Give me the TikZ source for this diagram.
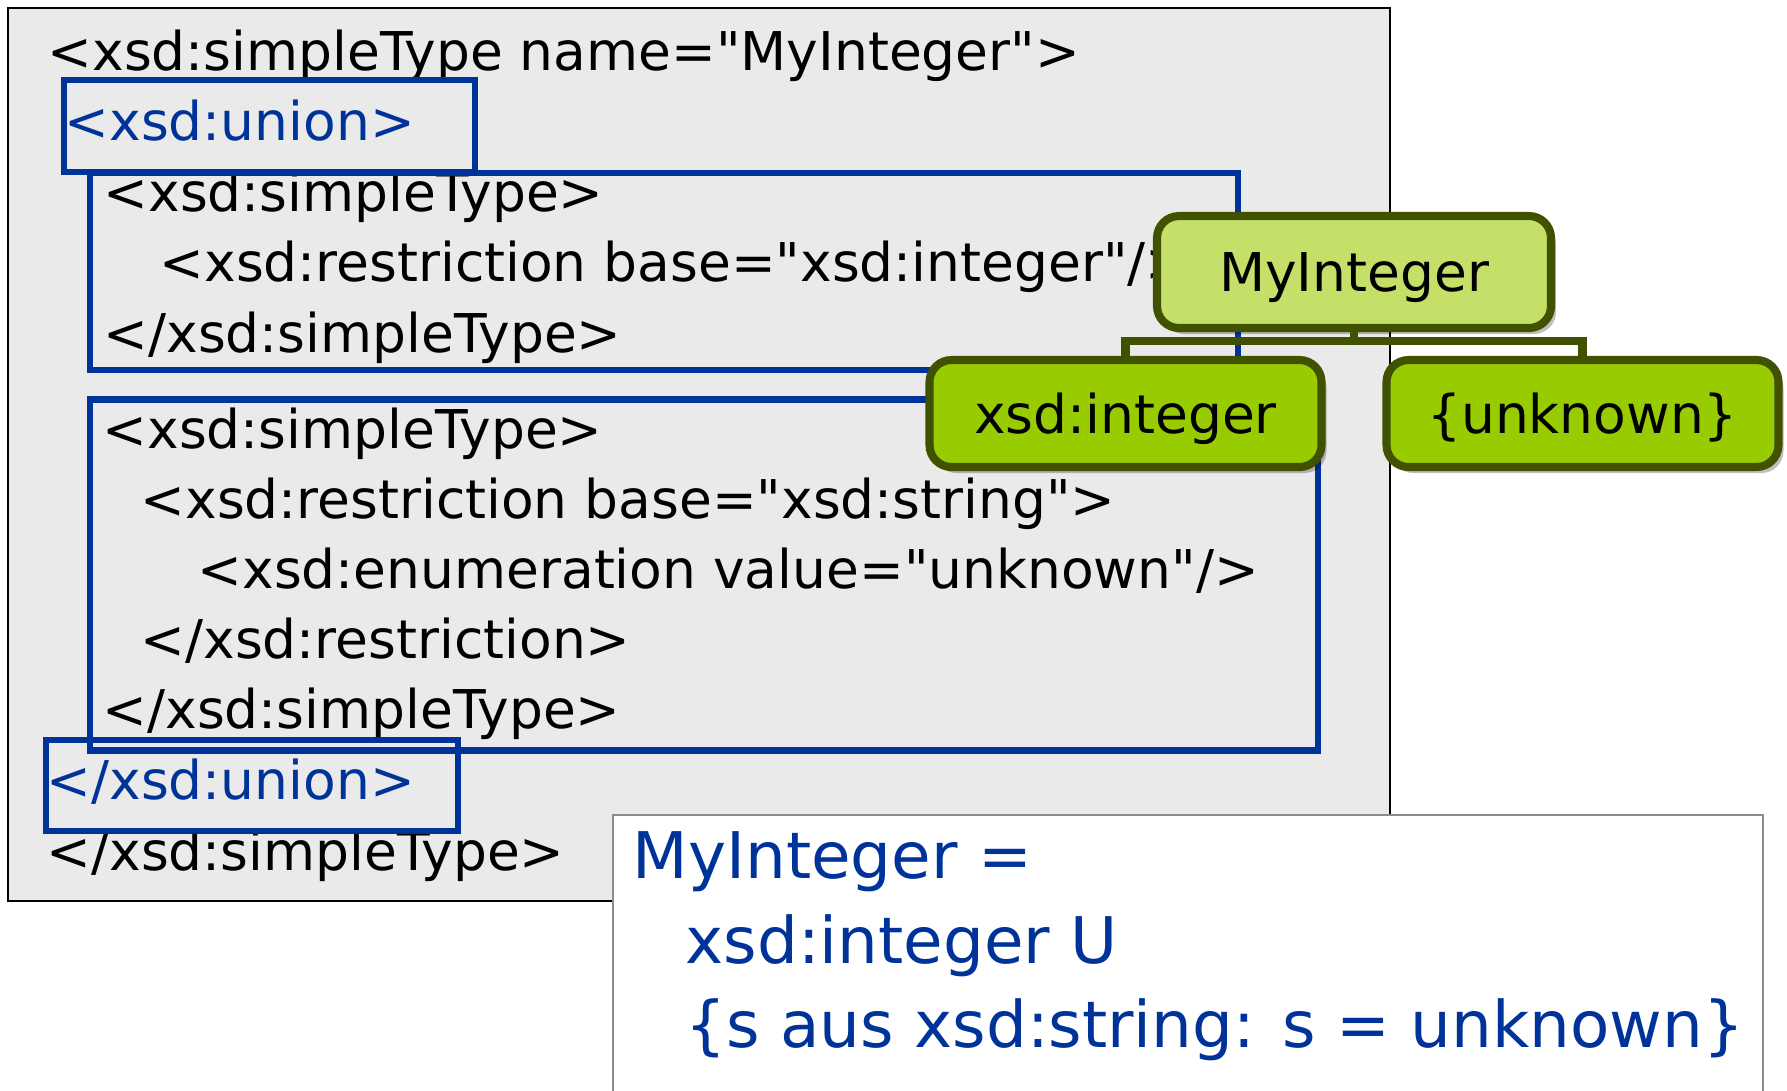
\documentclass[tikz,border=0pt]{standalone}
\usepackage{fontspec}
\setmainfont{DejaVu Sans}[Ligatures=TeXOff]
\usepackage{xcolor}
\usepackage{tikz}
\usetikzlibrary{positioning, shadows}

\definecolor{codegray}{RGB}{234,234,234}
\definecolor{frameblue}{RGB}{0,51,153}
\definecolor{branchgreen}{RGB}{64,82,0}
\definecolor{rootgreen}{RGB}{197,224,104}
\definecolor{leafgreen}{RGB}{153,204,0}

\begin{document}
\begin{tikzpicture}[
    % Styles
    code/.style={
        anchor=base west, inner sep=0pt,
        font=\fontsize{15.2}{18}\selectfont, text=black
    },
    uniontag/.style={code, text=frameblue},
    formula/.style={
        anchor=base west, inner sep=0pt,
        font=\fontsize{18.3}{22}\selectfont, text=frameblue
    },
    blueframe/.style={draw=frameblue, line width=1.9pt},
    typebox/.style={
        rectangle, rounded corners=0.22cm,
        draw=branchgreen, line width=2.3pt,
        minimum width=3.92cm, minimum height=1.07cm,
        font=\fontsize{15.2}{18}\selectfont, text depth=0pt,
        drop shadow={shadow xshift=0.05cm, shadow yshift=-0.06cm, fill=black, opacity=0.25}
    },
    rootbox/.style={typebox, fill=rootgreen, minimum width=3.94cm, minimum height=1.12cm},
    leafbox/.style={typebox, fill=leafgreen},
    branch/.style={draw=branchgreen, line width=2.3pt}
]

\clip (0,0) rectangle (17.87,-10.90);

% === SCHEMA (gray panel) ===
\draw [fill=codegray, draw=black, line width=0.6pt] (0.08,-0.08) rectangle (13.90,-9.01);

\node (head) [code] at (0.47, -0.70) {<xsd:simpleType name="MyInteger">};
\node (unionopen) [uniontag] at (0.64, -1.40) {<xsd:union>};
\node (stA) [code] at (1.03, -2.11) {<xsd:simpleType>};
\node (resA) [code] at (1.59, -2.81) {<xsd:restriction base="xsd:integer"/>};
\node (stAend) [code] at (1.03, -3.52) {</xsd:simpleType>};
\node (stB) [code] at (1.02, -4.48) {<xsd:simpleType>};
\node (resB) [code] at (1.40, -5.18) {<xsd:restriction base="xsd:string">};
\node (enumB) [code] at (1.97, -5.88) {<xsd:enumeration value="unknown"/>};
\node (resBend) [code] at (1.40, -6.58) {</xsd:restriction>};
\node (stBend) [code] at (1.02, -7.28) {</xsd:simpleType>};
\node (unionclose) [uniontag] at (0.46, -7.99) {</xsd:union>};
\node (foot) [code] at (0.46, -8.70) {</xsd:simpleType>};

% Frames round union and member types
\draw [blueframe] (0.64,-0.80) rectangle (4.75,-1.72);
\draw [blueframe] (0.90,-1.73) rectangle (12.38,-3.70);
\draw [blueframe] (0.90,-3.995) rectangle (13.18,-7.505);
\draw [blueframe] (0.46,-7.40) rectangle (4.58,-8.31);

% === SET NOTATION (white panel) ===
\draw [fill=white, draw=gray!90, line width=0.7pt] (6.13,-8.15) rectangle (17.63,-11.20);
\node (eqA) [formula] at (6.32, -8.78) {MyInteger =};
\node (eqB) [formula] at (6.85, -9.63) {xsd:integer U};
\node (eqC) [formula] at (6.85, -10.47) {\{s aus xsd:string: s = unknown\}};

% === TYPE TREE ===
\node (root) [rootbox] at (13.54, -2.72) {MyInteger};
\node (intleaf) [leafbox] at (11.255, -4.135) {xsd:integer};
\node (unkleaf) [leafbox] at (15.825, -4.135) {\{unknown\}};

\draw [branch] (root.south) -- ++(0,-0.09) -| (intleaf.north);
\draw [branch] (root.south) -- ++(0,-0.09) -| (unkleaf.north);

\end{tikzpicture}
\end{document}
